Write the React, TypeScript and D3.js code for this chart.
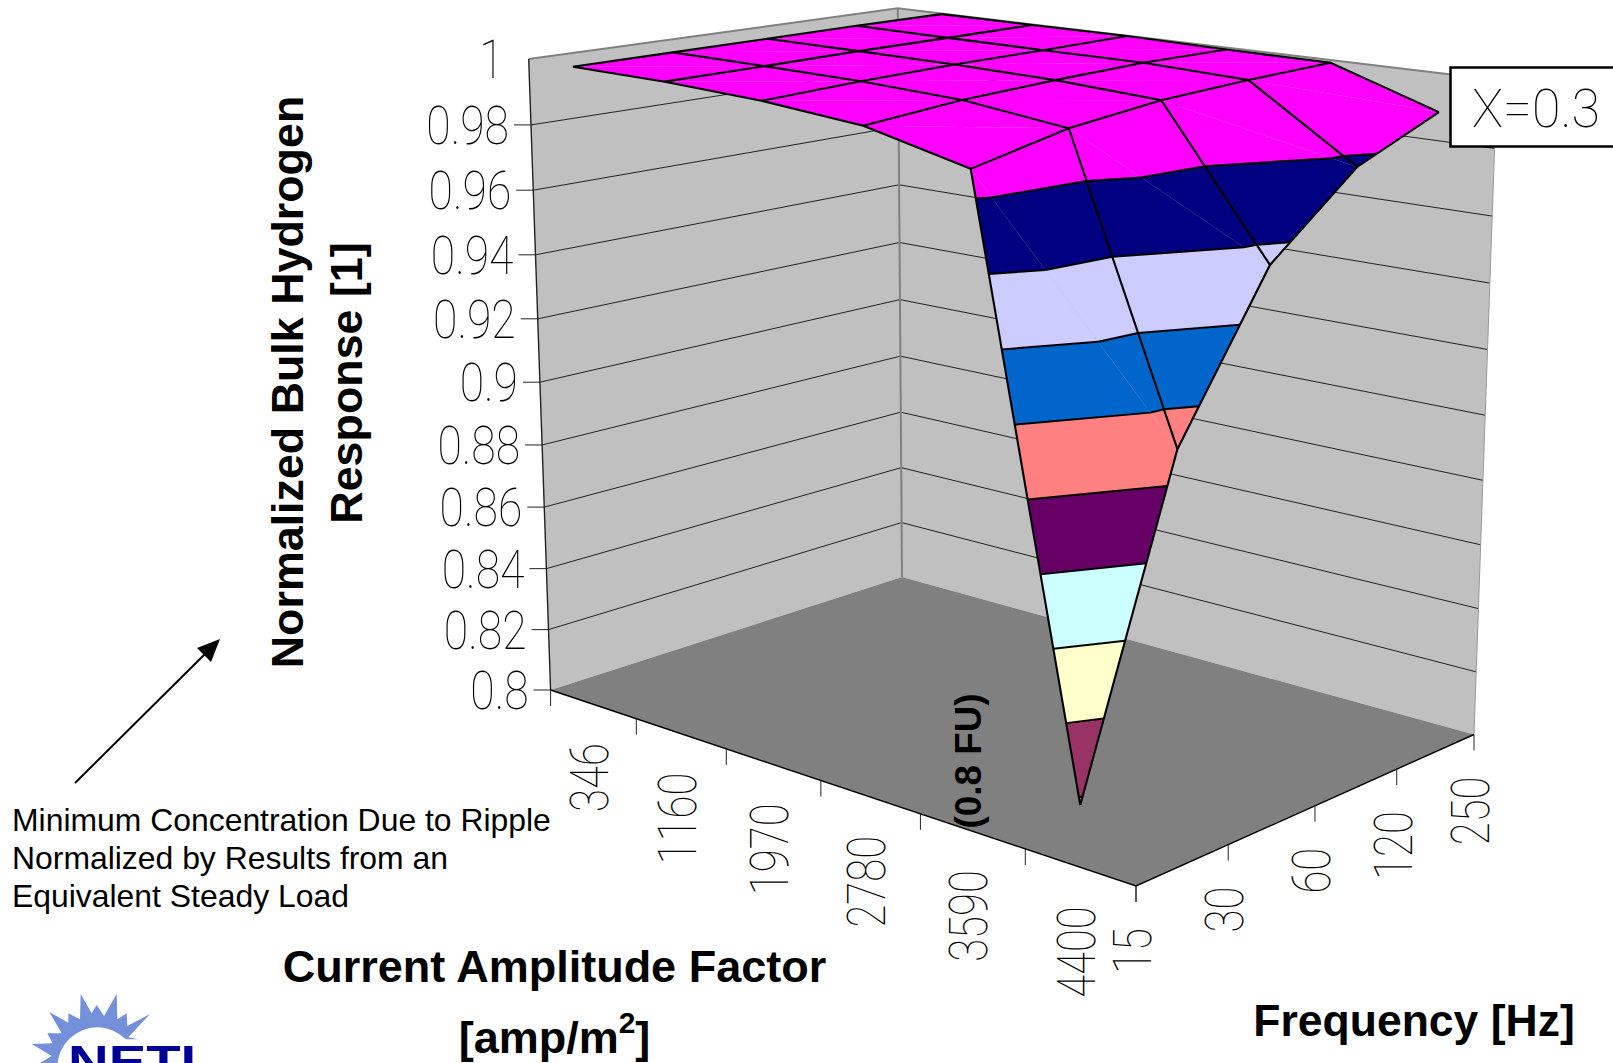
import React from 'react';
import * as d3 from 'd3';
type P=[number,number];
type V={u:number,v:number,z:number};

// ---- data ----
const currentLabels=['346','1160','1970','2780','3590','4400'];
const frequencyLabels=['15','30','60','120','250'];
const zTicks=[0.8,0.82,0.84,0.86,0.88,0.9,0.92,0.94,0.96,0.98,1];
const responseAt346=[0.9996,0.9997,0.9998,0.9999,0.9998];
const responseAt1160=[0.9992,0.9994,0.9997,0.9997,0.9998];
const responseAt1970=[0.9978,0.9989,0.9995,0.9996,0.9999];
const responseAt2780=[0.9951,0.9976,0.9988,0.9996,0.9994];
const responseAt3590=[0.9878,0.9939,0.9971,0.9984,0.9992];
const responseAt4400=[0.8179,0.9096,0.9549,0.9774,0.9885];
const response=[responseAt346,responseAt1160,responseAt1970,responseAt2780,responseAt3590,responseAt4400];
const bandColors=['#9999FF','#993366','#FFFFCC','#CCFFFF','#660066','#FF8080','#0066CC','#CCCCFF','#000080','#FF00FF'];

// ---- box geometry: perspective of the chart's cube ----
const floorA:P=[550.6,690],floorB:P=[1136,886],floorK:P=[902,577],floorC:P=[1474,734.5];
const topA:P=[528.7,59],topB:P=[1143.4,149],topK:P=[897.8,8.3],topC:P=[1497,80];
function hom(p00:P,p10:P,p01:P,p11:P){
 const [x0,y0]=p00,[x1,y1]=p10,[x3,y3]=p01,[x2,y2]=p11;
 const dx1=x1-x2,dx2=x3-x2,dy1=y1-y2,dy2=y3-y2,sx=x0-x1+x2-x3,sy=y0-y1+y2-y3;
 const den=dx1*dy2-dx2*dy1;const g=(sx*dy2-dx2*sy)/den,h=(dx1*sy-sx*dy1)/den;
 const a=x1-x0+g*x1,b=x3-x0+h*x3,d=y1-y0+g*y1,e=y3-y0+h*y3;
 return (u:number,v:number):P=>{const w=g*u+h*v+1;return [(a*u+b*v+x0)/w,(d*u+e*v+y0)/w];};
}
const F=hom(floorA,floorB,floorK,floorC),T=hom(topA,topB,topK,topC);
const zScale=d3.scaleLinear().domain([0.8,1]).range([0,1]);
const depth=1.05;
const project=(u:number,v:number,z:number):P=>{
 const f=F(u,v),t=T(u,v),s=zScale(z),k=s/(s+(1-s)*depth);
 return [f[0]+(t[0]-f[0])*k,f[1]+(t[1]-f[1])*k];
};
const uBand=d3.scaleBand<string>().domain(currentLabels).range([0,1]);
const vPoint=d3.scalePoint<string>().domain(frequencyLabels).range([0,1]);
const lineGen=d3.line<P>();
const closed=(pts:P[])=>lineGen(pts)+'Z';
const pv=(a:V)=>project(a.u,a.v,a.z);

function clip(poly:V[],level:number,keepAbove:boolean):V[]{
 const out:V[]=[];
 const inside=(p:V)=>keepAbove?p.z>=level:p.z<=level;
 poly.forEach((p,i)=>{
  const q=poly[(i+1)%poly.length];
  if(inside(p))out.push(p);
  if(inside(p)!==inside(q)){
   const t=(level-p.z)/(q.z-p.z);
   out.push({u:p.u+(q.u-p.u)*t,v:p.v+(q.v-p.v)*t,z:level});
  }
 });
 return out;
}
function levelSegment(tri:V[],level:number):V[]|null{
 const pts:V[]=[];
 tri.forEach((p,i)=>{
  const q=tri[(i+1)%3];
  if((p.z-level)*(q.z-level)<0){
   const t=(level-p.z)/(q.z-p.z);
   pts.push({u:p.u+(q.u-p.u)*t,v:p.v+(q.v-p.v)*t,z:level});
  }
 });
 return pts.length===2?pts:null;
}

const vertex=(i:number,j:number):V=>({
 u:uBand(currentLabels[i])!+uBand.bandwidth()/2,
 v:vPoint(frequencyLabels[j])!,
 z:response[i][j],
});

const thin={fontFamily:'Roboto',fontWeight:100 as const,fill:'#000'};
const arial='"Liberation Sans"';

function Logo(){
 const s=(X:number,Y:number):P=>[X/3,950+Y/3];
 const star=[[120,339],[155,318],[95,282],[158,280],[142,250],[185,250],[148,186],[205,218],[205,190],[240,208],[242,132],[275,190],[290,165],[312,198],[350,132],[352,208],[380,190],[382,228],[450,192],[385,262],[415,268],[365,268],[400,339]].map(p=>s(p[0],p[1]));
 return <g>
  <path d={closed(star)} fill="#7590DB"/>
  <circle cx={s(292,0)[0]} cy={s(0,352)[1]} r={40} fill="#fff"/>
  <text x={68} y={1077} fontFamily={arial} fontWeight={700} fontSize={44} textLength={147} lengthAdjust="spacingAndGlyphs" fill="#000099">NETL</text>
 </g>;
}

export default function App(){
 const tris:V[][]=[];
 for(let i=0;i<currentLabels.length-1;i++)for(let j=frequencyLabels.length-2;j>=0;j--){
  const a=vertex(i,j),b=vertex(i+1,j),c=vertex(i+1,j+1),d=vertex(i,j+1);
  tris.push([a,b,c],[a,c,d]);
 }
 const fills:{d:string,color:string}[]=[];
 tris.forEach(tri=>{
  bandColors.forEach((color,k)=>{
   let poly=clip(tri,zTicks[k],true);
   if(poly.length)poly=clip(poly,zTicks[k+1],false);
   if(poly.length>2)fills.push({d:closed(poly.map(pv)),color});
  });
 });
 const bandLines:string[]=[];
 tris.forEach(tri=>{
  zTicks.slice(1,-1).forEach(l=>{
   const seg=levelSegment(tri,l);
   if(seg)bandLines.push(lineGen(seg.map(pv))!);
  });
 });
 const gridLines:string[]=[];
 currentLabels.forEach((_,i)=>gridLines.push(lineGen(frequencyLabels.map((_f,j)=>pv(vertex(i,j))))!));
 frequencyLabels.forEach((_,j)=>gridLines.push(lineGen(currentLabels.map((_c,i)=>pv(vertex(i,j))))!));
 const uTicks=d3.range(currentLabels.length+1).map(k=>k/currentLabels.length);
 return <svg width={1613} height={1063} style={{position:'absolute',left:0,top:0,background:'#fff'}}>
  <path d={closed([topA,topK,floorK,floorA])} fill="#C0C0C0"/>
  <path d={closed([topK,topC,floorC,floorK])} fill="#C0C0C0"/>
  {zTicks.slice(1,-1).map(z=><g key={z}>
   <path d={lineGen([project(0,0,z),project(0,1,z),project(1,1,z)])!} fill="none" stroke="#222" strokeWidth={1}/>
  </g>)}
  <path d={closed([floorA,floorK,floorC,floorB])} fill="#808080"/>
  <path d={lineGen([topA,topK,topC])!} fill="none" stroke="#808080" strokeWidth={2}/>
  <path d={lineGen([topK,floorK])!} fill="none" stroke="#808080" strokeWidth={2}/>
  <path d={lineGen([topC,floorC])!} fill="none" stroke="#999" strokeWidth={1}/>
  <path d={lineGen([topA,floorA])!} fill="none" stroke="#222" strokeWidth={1.4}/>
  <path d={lineGen([floorA,floorB,floorC])!} fill="none" stroke="#000" strokeWidth={1.4}/>
  {/* z axis */}
  {zTicks.map(z=>{
   const p=project(0,0,z);
   return <g key={z}>
    {z<1&&<line x1={p[0]-17} x2={p[0]} y1={p[1]} y2={p[1]} stroke="#222" strokeWidth={1}/>}
    <text transform={`translate(${p[0]-(z===1?25:22)},${p[1]+19}) scale(0.84,1)`} fontSize={53} textAnchor="end" {...thin}>{String(z)}</text>
   </g>;
  })}
  {/* floor axes */}
  {uTicks.map(u=>{const p=F(u,0);return <line key={u} x1={p[0]} x2={p[0]} y1={p[1]} y2={p[1]+16} stroke="#222" strokeWidth={1}/>;})}
  {frequencyLabels.map(f=>{const p=F(1,vPoint(f)!);return <line key={f} x1={p[0]} x2={p[0]} y1={p[1]} y2={p[1]+16} stroke="#222" strokeWidth={1}/>;})}
  {currentLabels.map(c=>{const p=F(uBand(c)!+uBand.bandwidth()/2,0);
   return <text key={c} transform={`translate(${p[0]+15},${p[1]+39}) rotate(-90) scale(0.79,1)`} fontSize={53} textAnchor="end" {...thin}>{c}</text>;})}
  {frequencyLabels.map(f=>{const p=F(1,vPoint(f)!);
   return <text key={f} transform={`translate(${p[0]+15},${p[1]+42}) rotate(-90) scale(0.79,1)`} fontSize={53} textAnchor="end" {...thin}>{f}</text>;})}
  {/* surface */}
  {fills.map((f,i)=><path key={i} d={f.d} fill={f.color}/>)}
  {bandLines.map((d,i)=><path key={i} d={d} fill="none" stroke="#000" strokeWidth={2}/>)}
  {gridLines.map((d,i)=><path key={i} d={d} fill="none" stroke="#000" strokeWidth={2.1} strokeLinejoin="miter"/>)}
  {/* annotations */}
  <rect x={1450.5} y={67.5} width={170} height={79} fill="#fff" stroke="#000" strokeWidth={2.5}/>
  <text transform="translate(1472,126.5) scale(0.98,1)" fontSize={53} {...thin}>X=0.3</text>
  <g fontFamily={arial} fill="#000">
   <text transform="translate(303,382) rotate(-90)" fontSize={44.8} fontWeight={700} textAnchor="middle">Normalized Bulk Hydrogen</text>
   <text transform="translate(362,383) rotate(-90)" fontSize={44.8} fontWeight={700} textAnchor="middle">Response [1]</text>
   <text transform="translate(981,761) rotate(-90)" fontSize={36.8} fontWeight={700} textAnchor="middle">(0.8 FU)</text>
   <text x={12} y={831} fontSize={31.9}>Minimum Concentration Due to Ripple</text>
   <text x={12} y={869} fontSize={31.9}>Normalized by Results from an</text>
   <text x={12} y={907} fontSize={31.9}>Equivalent Steady Load</text>
   <text x={554.5} y={982} fontSize={45} fontWeight={700} textAnchor="middle">Current Amplitude Factor</text>
   <text x={554.5} y={1053} fontSize={45} fontWeight={700} textAnchor="middle">[amp/m<tspan fontSize={30} dy={-20}>2</tspan><tspan dy={20}>]</tspan></text>
   <text x={1414} y={1036} fontSize={44.5} fontWeight={700} textAnchor="middle">Frequency [Hz]</text>
  </g>
  <line x1={75} y1={783} x2={208} y2={651} stroke="#000" strokeWidth={2}/>
  <path d={closed([[220,639],[197,648],[211,662]])} fill="#000"/>
  <Logo/>
 </svg>;
}
